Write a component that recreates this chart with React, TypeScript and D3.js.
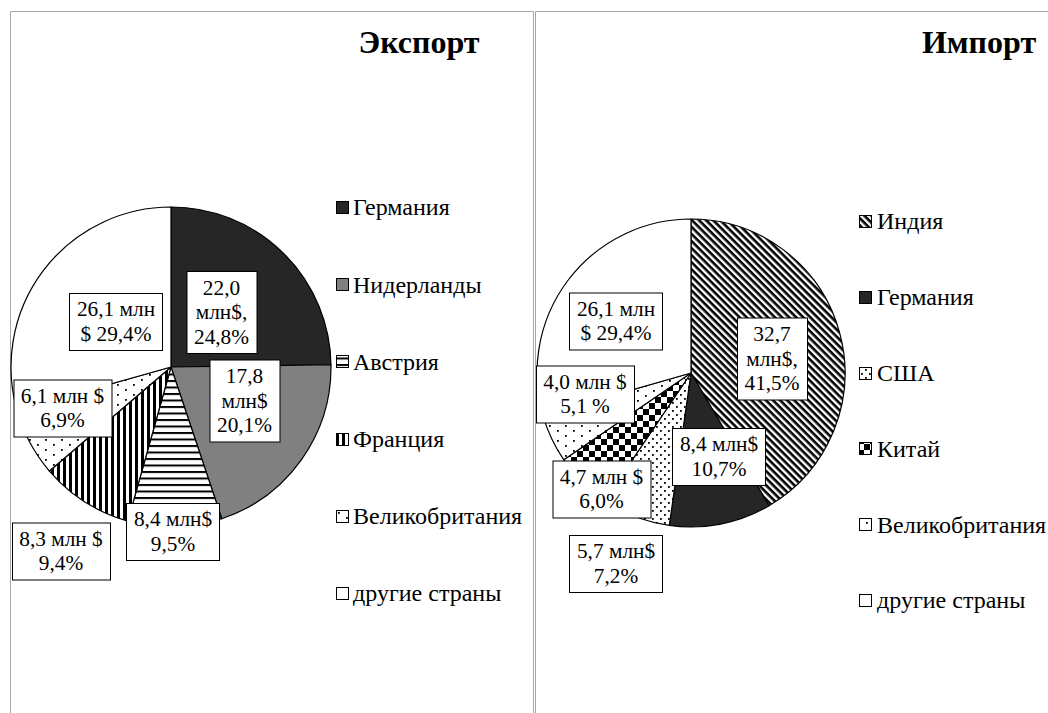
import React, { useEffect, useRef } from 'react';
import * as d3 from 'd3';

// ---------- data ----------
const exportCountries = ['Германия', 'Нидерланды', 'Австрия', 'Франция', 'Великобритания', 'другие страны'];
const exportValues = [22.0, 17.8, 8.4, 8.3, 6.1, 26.1];
const exportShares = [24.8, 20.1, 9.5, 9.4, 6.9, 29.4];
const exportLabels = [
  ['22,0', 'млн$,', '24,8%'],
  ['17,8', 'млн$', '20,1%'],
  ['8,4 млн$', '9,5%'],
  ['8,3 млн $', '9,4%'],
  ['6,1 млн $', '6,9%'],
  ['26,1 млн', '$ 29,4%'],
];

const importCountries = ['Индия', 'Германия', 'США', 'Китай', 'Великобритания', 'другие страны'];
const importValues = [32.7, 8.4, 5.7, 4.7, 4.0, 26.1];
const importShares = [41.5, 10.7, 7.2, 6.0, 5.1, 29.4];
const importLabels = [
  ['32,7', 'млн$,', '41,5%'],
  ['8,4 млн$', '10,7%'],
  ['5,7 млн$', '7,2%'],
  ['4,7 млн $', '6,0%'],
  ['4,0 млн $', '5,1 %'],
  ['26,1 млн', '$ 29,4%'],
];

// ---------- layout / styles ----------
const exportFills = ['#262626', '#808080', 'url(#hlines)', 'url(#vlines)', 'url(#sparseDots)', '#ffffff'];
const importFills = ['url(#diag)', '#262626', 'url(#denseDots)', 'url(#checker)', 'url(#sparseDots)', '#ffffff'];
// label box centres relative to pie centre (manual placement)
const exportLabelOffsets = [[50.5, -55], [73.5, 33.5], [2, 164], [-110, 183.5], [-108.5, 40.5], [-55, -46]];
const importLabelOffsets = [[81, -14.5], [28, 83], [-75, 190], [-89.5, 115.5], [-106, 20.5], [-75, -52.5]];

const FONT = "'Liberation Serif', 'Times New Roman', serif";
const W = 1048;
const H = 713;

type Panel = {
  title: string;
  titleX: number;
  cx: number;
  cy: number;
  r: number;
  countries: string[];
  values: number[];
  shares: number[];
  labels: string[][];
  fills: string[];
  offsets: number[][];
  legendMarkerX: number;
  legendTextX: number;
  legendY0: number;
  legendStep: number;
};

const panels: Panel[] = [
  {
    title: 'Экспорт', titleX: 419, cx: 171, cy: 367, r: 160,
    countries: exportCountries, values: exportValues, shares: exportShares, labels: exportLabels,
    fills: exportFills, offsets: exportLabelOffsets,
    legendMarkerX: 336, legendTextX: 353, legendY0: 207, legendStep: 77.2,
  },
  {
    title: 'Импорт', titleX: 979, cx: 691, cy: 373, r: 154,
    countries: importCountries, values: importValues, shares: importShares, labels: importLabels,
    fills: importFills, offsets: importLabelOffsets,
    legendMarkerX: 859, legendTextX: 877, legendY0: 221, legendStep: 75.8,
  },
];

export default function App() {
  const ref = useRef<SVGSVGElement | null>(null);

  useEffect(() => {
    const svg = d3.select(ref.current);
    svg.selectAll('*').remove();

    // patterns
    const defs = svg.append('defs');
    const hl = defs.append('pattern').attr('id', 'hlines').attr('patternUnits', 'userSpaceOnUse').attr('width', 8).attr('height', 6.5);
    hl.append('rect').attr('width', 8).attr('height', 6.5).attr('fill', '#fff');
    hl.append('rect').attr('width', 8).attr('height', 2).attr('fill', '#000');

    const vl = defs.append('pattern').attr('id', 'vlines').attr('patternUnits', 'userSpaceOnUse').attr('width', 6).attr('height', 8);
    vl.append('rect').attr('width', 6).attr('height', 8).attr('fill', '#fff');
    vl.append('rect').attr('width', 3).attr('height', 8).attr('fill', '#000');

    const sd = defs.append('pattern').attr('id', 'sparseDots').attr('patternUnits', 'userSpaceOnUse').attr('width', 16).attr('height', 10);
    sd.append('rect').attr('width', 16).attr('height', 10).attr('fill', '#fff');
    sd.append('rect').attr('x', 2).attr('y', 2).attr('width', 1.8).attr('height', 1.8).attr('fill', '#000');
    sd.append('rect').attr('x', 10).attr('y', 7).attr('width', 1.8).attr('height', 1.8).attr('fill', '#000');

    const dd = defs.append('pattern').attr('id', 'denseDots').attr('patternUnits', 'userSpaceOnUse').attr('width', 8).attr('height', 8);
    dd.append('rect').attr('width', 8).attr('height', 8).attr('fill', '#fff');
    dd.append('rect').attr('x', 1).attr('y', 1).attr('width', 1.8).attr('height', 1.8).attr('fill', '#000');
    dd.append('rect').attr('x', 5).attr('y', 5).attr('width', 1.8).attr('height', 1.8).attr('fill', '#000');

    const ck = defs.append('pattern').attr('id', 'checker').attr('patternUnits', 'userSpaceOnUse').attr('width', 12).attr('height', 12);
    ck.append('rect').attr('width', 12).attr('height', 12).attr('fill', '#fff');
    ck.append('rect').attr('width', 6).attr('height', 6).attr('fill', '#000');
    ck.append('rect').attr('x', 6).attr('y', 6).attr('width', 6).attr('height', 6).attr('fill', '#000');

    const dg = defs.append('pattern').attr('id', 'diag').attr('patternUnits', 'userSpaceOnUse').attr('width', 5).attr('height', 5)
      .attr('patternTransform', 'rotate(45)');
    dg.append('rect').attr('width', 5).attr('height', 5).attr('fill', '#fff');
    dg.append('rect').attr('width', 5).attr('height', 2.6).attr('fill', '#000');

    // panel borders
    const border = '#a6a6a6';
    svg.append('path').attr('d', `M10.5,${H + 5} V11.5 H533.5 V${H + 5}`).attr('fill', 'none').attr('stroke', border);
    svg.append('path').attr('d', `M535.5,${H + 5} V11.5 H${W + 5}`).attr('fill', 'none').attr('stroke', border);

    panels.forEach((p) => {
      const g = svg.append('g');
      // title
      g.append('text').attr('x', p.titleX).attr('y', 53).attr('text-anchor', 'middle')
        .style('font-family', FONT).attr('font-weight', 'bold').attr('font-size', 32).attr('fill', '#000')
        .text(p.title);

      const pie = d3.pie<number>().sort(null).value((d) => d);
      const arcs = pie(p.shares);
      const arc = d3.arc<d3.PieArcDatum<number>>().innerRadius(0).outerRadius(p.r);
      const pg = g.append('g').attr('transform', `translate(${p.cx},${p.cy})`);
      pg.selectAll('path.slice').data(arcs).enter().append('path')
        .attr('class', 'slice')
        .attr('d', arc)
        .attr('fill', (_d, i) => p.fills[i])
        .attr('stroke', '#000').attr('stroke-width', 1.2).attr('stroke-linejoin', 'round');

      // labels
      const lineH = 24.5;
      p.labels.forEach((lines, i) => {
        const [ox, oy] = p.offsets[i];
        const lg = pg.append('g').attr('transform', `translate(${ox},${oy})`);
        const rect = lg.append('rect').attr('fill', '#fff').attr('stroke', '#000').attr('stroke-width', 1);
        const t = lg.append('text').attr('text-anchor', 'middle').style('font-family', FONT)
          .attr('font-size', 21.3).attr('fill', '#000');
        lines.forEach((ln, j) => {
          t.append('tspan').attr('x', 0)
            .attr('y', (j - (lines.length - 1) / 2) * lineH)
            .attr('dy', '0.35em').text(ln);
        });
        const bb = (t.node() as SVGTextElement).getBBox();
        const padX = 7.5;
        const h = lines.length * lineH + 8;
        rect.attr('x', Math.round(bb.x - padX) + 0.5).attr('y', Math.round(-h / 2) + 0.5)
          .attr('width', Math.round(bb.width + padX * 2)).attr('height', Math.round(h));
      });

      // legend
      p.countries.forEach((c, i) => {
        const y = p.legendY0 + i * p.legendStep;
        g.append('rect').attr('x', p.legendMarkerX + 0.5).attr('y', Math.round(y - 6) + 0.5)
          .attr('width', 12).attr('height', 12)
          .attr('fill', p.fills[i]).attr('stroke', '#000').attr('stroke-width', 1);
        g.append('text').attr('x', p.legendTextX).attr('y', y).attr('dy', '0.35em')
          .style('font-family', FONT).attr('font-size', 24).attr('fill', '#000').text(c);
      });
    });
  }, []);

  return (
    <svg ref={ref} width={W} height={H}
      style={{ position: 'absolute', left: 0, top: 0, background: '#fff', display: 'block' }} />
  );
}
